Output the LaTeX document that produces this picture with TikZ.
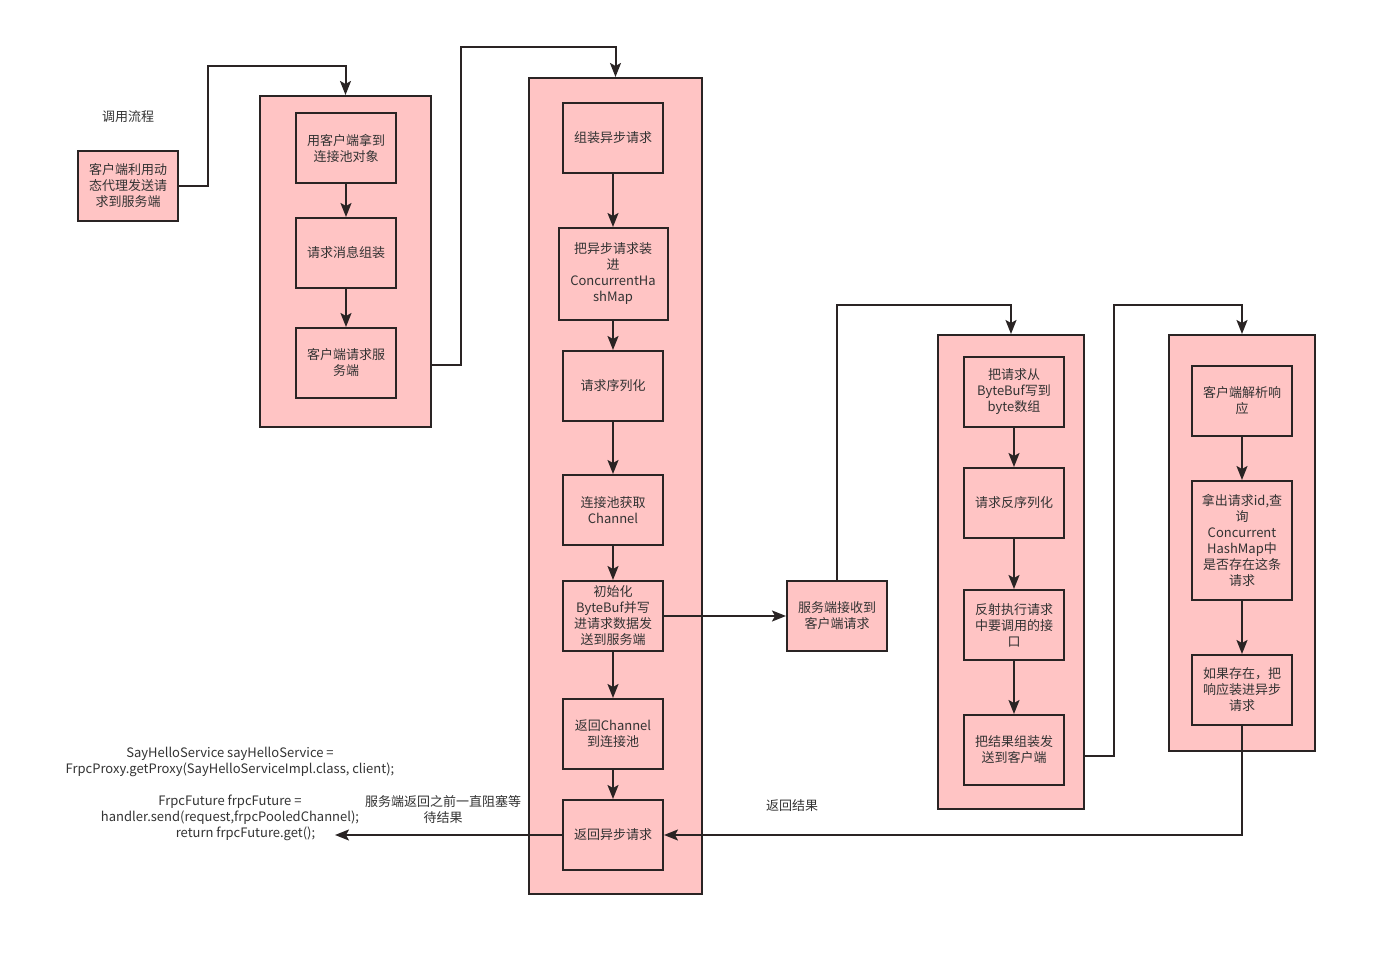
\documentclass[tikz,border=0pt]{standalone}
\usepackage{fontspec}
\setmainfont{Noto Sans CJK SC}
\usetikzlibrary{arrows.meta,calc}
\definecolor{pinkfill}{HTML}{FFC4C4}
\definecolor{edge}{HTML}{2A2424}
\definecolor{txt}{HTML}{333333}
\begin{document}
\begin{tikzpicture}[x=1pt,y=-1pt,
  every node/.style={font=\fontsize{13}{16}\selectfont, text=txt},
  box/.style={draw=edge, fill=pinkfill, line width=2pt, rectangle, inner sep=0pt, align=center, minimum width=100pt, minimum height=70pt},
  frame/.style={draw=edge, fill=pinkfill, line width=2pt, rectangle, inner sep=0pt},
  plain/.style={align=center, inner sep=0pt},
  arr/.style={draw=edge, line width=2pt, -{Stealth[length=14pt,width=11pt,inset=3pt]}},
  ln/.style={draw=edge, line width=2pt}]
\useasboundingbox (0,0) rectangle (1377,957);
\fill[white] (0,0) rectangle (1377,957);

% containers
\node[frame, minimum width=171pt, minimum height=331pt] (K1) at (345.5,261.5) {};
\node[frame, minimum width=173pt, minimum height=816pt] (K2) at (615.5,486) {};
\node[frame, minimum width=146pt, minimum height=474pt] (K3) at (1011,572) {};
\node[frame, minimum width=146pt, minimum height=416pt] (K4) at (1242,543) {};

\node[plain] (title) at (128,117) {调用流程};
\node[box] (A) at (128,186) {客户端利用动\\态代理发送请\\求到服务端};

\node[box] (B1) at (346,148) {用客户端拿到\\连接池对象};
\node[box] (B2) at (346,253) {请求消息组装};
\node[box] (B3) at (346,363) {客户端请求服\\务端};

\node[box] (C1) at (613,138) {组装异步请求};
\node[box, minimum width=109pt, minimum height=92pt] (C2) at (613,274) {把异步请求装\\进\\ConcurrentHa\\shMap};
\node[box] (C3) at (613,386) {请求序列化};
\node[box] (C4) at (613,510) {连接池获取\\Channel};
\node[box] (C5) at (613,616) {初始化\\ByteBuf并写\\进请求数据发\\送到服务端};
\node[box] (C6) at (613,734) {返回Channel\\到连接池};
\node[box] (C7) at (613,835) {返回异步请求};

\node[box] (D) at (837,616) {服务端接收到\\客户端请求};

\node[box] (E1) at (1014,392) {把请求从\\ByteBuf写到\\byte数组};
\node[box] (E2) at (1014,503) {请求反序列化};
\node[box] (E3) at (1014,625) {反射执行请求\\中要调用的接\\口};
\node[box] (E4) at (1014,750) {把结果组装发\\送到客户端};

\node[box] (F1) at (1242,401) {客户端解析响\\应};
\node[box, minimum height=119pt] (F2) at (1242,540.5) {拿出请求id,查\\询\\Concurrent\\HashMap中\\是否存在这条\\请求};
\node[box] (F3) at (1242,690) {如果存在，把\\响应装进异步\\请求};

\node[plain] (back) at (792,806) {返回结果};
\node[plain] (code1) at (230,762) {SayHelloService sayHelloService =\\FrpcProxy.getProxy(SayHelloServiceImpl.class, client);};
\node[plain] (code2) at (230,810) {FrpcFuture frpcFuture =\\handler.send(request,frpcPooledChannel);};
\node[plain] (code3) at (245.5,834) {return frpcFuture.get();};
\node[plain] (block) at (443,810) {服务端返回之前一直阻塞等\\待结果};

\coordinate (ret) at (335,835);

% connectors
\draw[arr] (A.east) -- (208,186) -- (208,66) -- (K1.north |- 0,66) -- (K1.north);
\draw[arr] (B1) -- (B2);
\draw[arr] (B2) -- (B3);
\draw[arr] (K1.east |- 0,365) -- (461,365) -- (461,47) -- (K2.north |- 0,47) -- (K2.north);
\draw[arr] (C1) -- (C2);
\draw[arr] (C2) -- (C3);
\draw[arr] (C3) -- (C4);
\draw[arr] (C4) -- (C5);
\draw[arr] (C5) -- (C6);
\draw[arr] (C6) -- (C7);
\draw[arr] (C5.east) -- (D.west);
\draw[arr] (D.north) -- (837,305) -- (K3.north |- 0,305) -- (K3.north);
\draw[arr] (E1) -- (E2);
\draw[arr] (E2) -- (E3);
\draw[arr] (E3) -- (E4);
\draw[arr] (K3.east |- 0,756) -- (1114,756) -- (1114,305) -- (K4.north |- 0,305) -- (K4.north);
\draw[arr] (F1) -- (F2);
\draw[arr] (F2) -- (F3);
\draw[arr] (F3.south) |- (C7.east);
\draw[arr] (C7.west) -- (ret);
\end{tikzpicture}
\end{document}
